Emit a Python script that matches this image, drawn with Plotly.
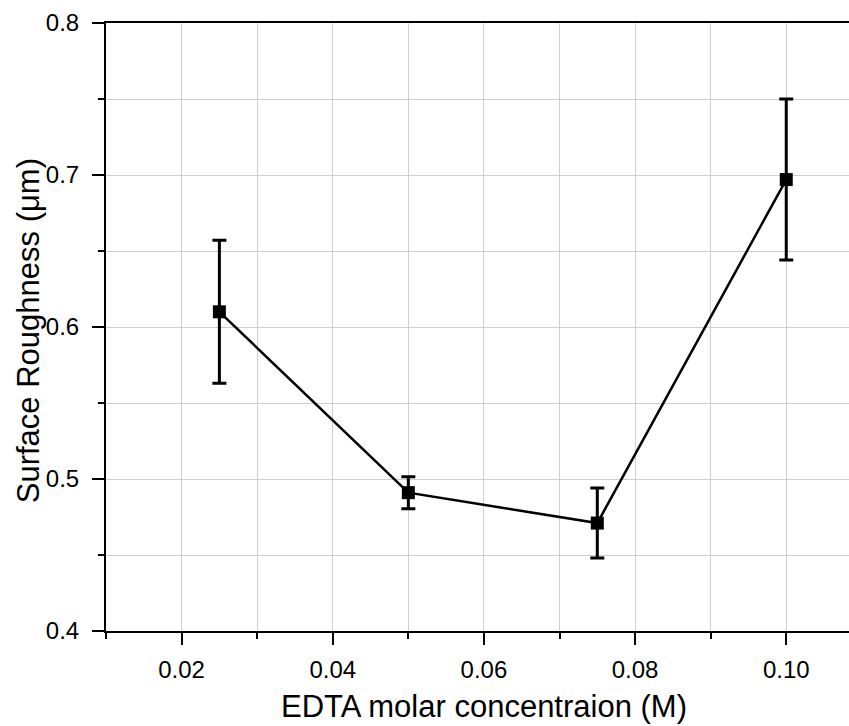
import plotly.graph_objects as go

# Data
edta_conc = [0.025, 0.050, 0.075, 0.100]
roughness = [0.610, 0.491, 0.471, 0.697]
roughness_err = [0.047, 0.0105, 0.023, 0.053]

x_title = "EDTA molar concentraion (M)"
y_title = "Surface Roughness (μm)"

FONT = "Liberation Sans, Arial, sans-serif"

fig = go.Figure()
fig.add_trace(go.Scatter(
    x=edta_conc, y=roughness,
    mode="lines+markers",
    line=dict(color="black", width=2.5),
    marker=dict(symbol="square", size=13, color="black"),
    error_y=dict(type="data", array=roughness_err, visible=True,
                 color="black", thickness=3, width=7),
    showlegend=False,
))

fig.update_layout(
    width=849, height=726,
    margin=dict(l=106, r=0, t=23, b=95),
    paper_bgcolor="white", plot_bgcolor="white",
    font=dict(family=FONT, color="black", size=24),
    xaxis=dict(
        range=[0.01, 0.1083],
        tick0=0, dtick=0.02, tickformat=".2f",
        ticks="outside", ticklen=12, tickwidth=2, tickcolor="black",
        ticklabelstandoff=4,
        showline=True, linecolor="black", linewidth=2, mirror=True,
        showgrid=True, gridcolor="#cfcfcf", gridwidth=1,
        minor=dict(dtick=0.01, ticks="outside", ticklen=6, tickwidth=2,
                   tickcolor="black", showgrid=True, gridcolor="#cfcfcf", gridwidth=1),
        zeroline=False,
        tickfont=dict(size=24),
    ),
    yaxis=dict(
        range=[0.4, 0.8],
        tick0=0, dtick=0.1, tickformat=".1f",
        ticks="outside", ticklen=12, tickwidth=2, tickcolor="black",
        ticklabelstandoff=8,
        showline=True, linecolor="black", linewidth=2,
        showgrid=True, gridcolor="#cfcfcf", gridwidth=1,
        minor=dict(dtick=0.05, ticks="outside", ticklen=6, tickwidth=2,
                   tickcolor="black", showgrid=True, gridcolor="#cfcfcf", gridwidth=1),
        zeroline=False,
        tickfont=dict(size=24),
    ),
    annotations=[
        dict(text=x_title, xref="paper", yref="paper", x=0.5087, y=0,
             xanchor="center", yanchor="top", yshift=-56, showarrow=False,
             font=dict(size=31, family=FONT, color="black")),
        dict(text=y_title, xref="paper", yref="paper", x=0, y=0.493,
             xanchor="center", yanchor="middle", xshift=-78, textangle=-90,
             showarrow=False, font=dict(size=31, family=FONT, color="black")),
    ],
)

fig.write_html("out.html")
